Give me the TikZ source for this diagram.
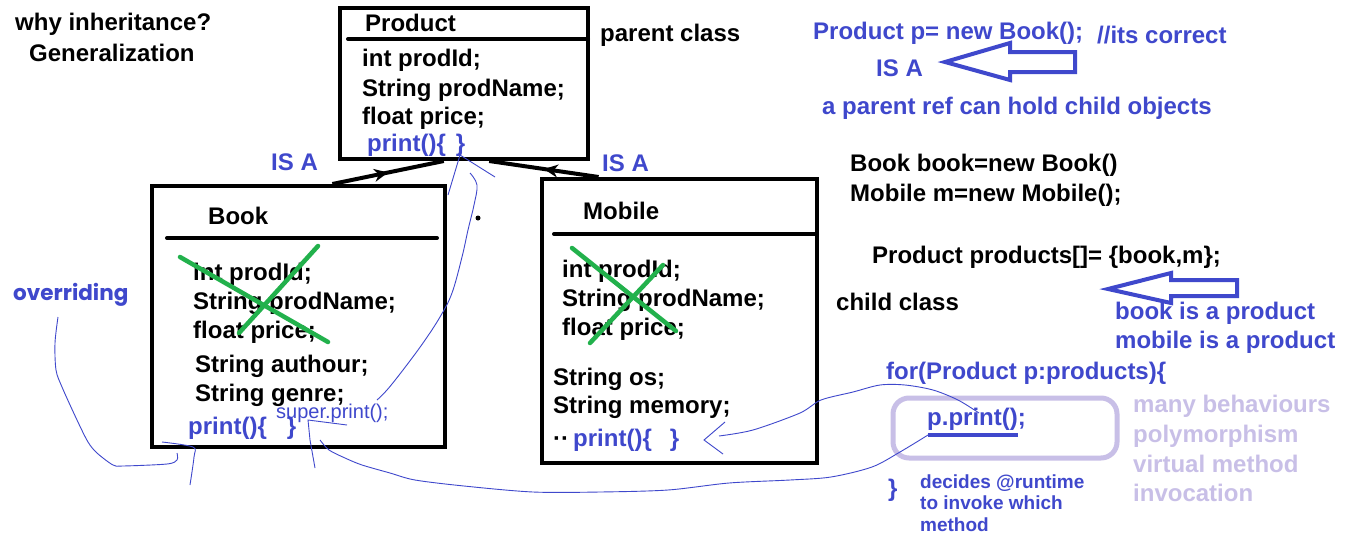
\documentclass[tikz,border=0pt]{standalone}
\usepackage{fontspec}
\setmainfont{Liberation Sans}
\newfontfamily\poppfont{Poppins}
\usetikzlibrary{arrows.meta,decorations.markings,calc}
\definecolor{pblue}{RGB}{63,72,204}
\definecolor{lav}{RGB}{200,191,231}
\definecolor{xgreen}{RGB}{34,177,76}
\begin{document}
\begin{tikzpicture}[x=1pt,y=-1pt,
 txt/.style={anchor=base west, inner sep=0pt, font=\bfseries\fontsize{24}{28}\selectfont},
 btxt/.style={txt, text=pblue},
 ltxt/.style={txt, text=lav},
 stxt/.style={anchor=base west, inner sep=0pt, text=pblue, font=\bfseries\fontsize{19}{21}\selectfont},
 classbox/.style={draw, line width=4pt, inner sep=0pt},
 sep/.style={line width=4pt, line cap=round},
 cross/.style={draw=xgreen, line width=4.5pt, line cap=round},
 hand/.style={draw=pblue, line width=0.9pt},
 isa/.style={line width=4pt, postaction={decorate}, decoration={markings, mark=at position 0.5 with {\arrow{Stealth[length=14pt,width=13pt]}}}},
 hollow/.style={draw=pblue, line width=4pt, line join=miter}]
\fill[white] (0,0) rectangle (1349,544);
\useasboundingbox (0,0) rectangle (1349,544);

% top-left notes
\node[txt] (why) at (15,30) {why inheritance?};
\node[txt] (gen) at (29,61) {Generalization};

% Product class
\node[classbox, minimum width=248pt, minimum height=151pt] (product) at (464,83.5) {};
\draw[sep] (348,39) -- (588,39);
\node[txt] (pname) at (365,31) {Product};
\node[txt] (p1) at (362,66) {int prodId;};
\node[txt] (p2) at (362,96) {String prodName;};
\node[txt] (p3) at (362,124) {float price;};
\node[btxt] (p4) at (367,151) {print()\{\hspace{10pt}\}};
\node[txt] (parent) at (600,41) {parent class};

% Book class
\node[classbox, minimum width=293pt, minimum height=261pt] (book) at (298.5,316.5) {};
\draw[sep] (167,238) -- (437,238);
\node[txt] (bname) at (208,224) {Book};
\node[txt] (b1) at (193,280) {int prodId;};
\node[txt] (b2) at (193,309) {String prodName;};
\node[txt] (b3) at (193,338) {float price;};
\node[txt] (b4) at (195,372) {String authour;};
\node[txt] (b5) at (195,401) {String genre;};
\node[btxt] (b6) at (188,434) {print()\{\hspace{20pt}\}};
\node[anchor=base west, inner sep=0pt, text=pblue, font=\fontsize{20}{22}\selectfont] (bsuper) at (276,418) {super.print();};
\draw[cross] (180,257) -- (328,342);
\draw[cross] (318,246) -- (239,333);

% Mobile class
\node[classbox, minimum width=275pt, minimum height=284pt] (mobile) at (679.5,321) {};
\draw[sep] (554,234) -- (817,234);
\node[txt] (mname) at (583,219) {Mobile};
\node[txt] (m1) at (562,277) {int prodId;};
\node[txt] (m2) at (562,306) {String prodName;};
\node[txt] (m3) at (562,335) {float price;};
\node[txt] (m4) at (553,385) {String os;};
\node[txt] (m5) at (553,413) {String memory;};
\node[txt] (mdots) at (553,446) {··};
\node[btxt] (m6) at (573,446) {print()\{\hspace{18pt}\}};
\draw[cross] (572,248) -- (676,331);
\draw[cross] (663,265) -- (590,343);

% inheritance arrows
\draw[isa] ($(book.north west)!0.614!(book.north east)$) -- ($(product.south west)!0.42!(product.south east)$);
\draw[isa] ($(mobile.north west)!0.21!(mobile.north east)$) -- ($(product.south west)!0.6!(product.south east)$);
\node[btxt] (isa1) at (271,170) {IS A};
\node[btxt] (isa2) at (602,171) {IS A};
\fill (478,218) circle (2.5);

% overriding
\node[anchor=base west, inner sep=0pt, text=pblue, font=\poppfont\bfseries\fontsize{21.5}{24}\selectfont] (over) at (13,300) {overriding};

% right notes
\node[btxt] (r1) at (813,39) {Product p= new Book();};
\node[btxt] (r2) at (1097,43) {//its correct};
\node[btxt] (r3) at (876,76) {IS A};
\node[btxt] (r4) at (822,114) {a parent ref can hold child objects};
\draw[hollow] (945,62) -- (1010,43) -- (1010,52) -- (1075,52) -- (1075,72) -- (1010,72) -- (1010,80) -- cycle;
\node[txt] (r5) at (850,171) {Book book=new Book()};
\node[txt] (r6) at (850,201) {Mobile m=new Mobile();};
\node[txt] (r7) at (872,263) {Product products[]= \{book,m\};};
\draw[hollow] (1108,289) -- (1171,273) -- (1171,280) -- (1237,280) -- (1237,296) -- (1171,296) -- (1171,303) -- cycle;
\node[txt] (child) at (836,310) {child class};
\node[btxt] (r8) at (1115,319) {book is a product};
\node[btxt] (r9) at (1115,348) {mobile is a product};
\node[btxt] (loop) at (886,379) {for(Product p:products)\{};
\node[draw=lav, line width=5pt, rounded corners=16pt, minimum width=224pt, minimum height=60pt] (pbox) at (1005,428) {};
\node[btxt] (pp) at (927,425) {p.print();};
\draw[pblue, line width=4pt] (928,435) -- (1018,435);
\node[btxt] (close) at (888,496) {\}};
\node[stxt] (d1) at (920,488) {decides @runtime};
\node[stxt] (d2) at (920,509) {to invoke which};
\node[stxt] (d3) at (920,531) {method};
\node[ltxt] (l1) at (1133,412) {many behaviours};
\node[ltxt] (l2) at (1133,442) {polymorphism};
\node[ltxt] (l3) at (1133,472) {virtual method};
\node[ltxt] (l4) at (1133,501) {invocation};

% hand-drawn blue strokes
\draw[hand] plot[smooth, tension=0.6] coordinates {(377,400) (387,390) (403,370) (423,343) (440,317) (452,293) (462,257) (468,230) (474,205) (477,185) (470,173)};
\draw[hand] (448,195) -- (460,155) -- (495,177);
\draw[hand] plot[smooth] coordinates {(58,317) (55,343) (56,370) (62,387) (77,420) (88,442) (97,453) (113,465) (123,466) (167,464) (177,460) (177,453)};
\draw[hand] plot[smooth] coordinates {(162,442) (193,447) (194,457) (190,485)};
\draw[hand] (347,425) -- (308,420) -- (310,440) -- (315,468);
\draw[hand] plot[smooth] coordinates {(320,440) (329,450) (345,458) (362,465) (390,473) (415,480) (464,486) (533,492) (600,492) (668,490) (729,483) (790,480) (831,477) (872,467) (900,452) (928,435)};
\draw[hand] plot[smooth] coordinates {(979,413) (958,400) (933,390) (905,385) (880,385) (853,392) (821,400) (800,413) (753,430) (719,436)};
\draw[hand] (725,422) -- (704,440) -- (723,454);
\end{tikzpicture}
\end{document}
